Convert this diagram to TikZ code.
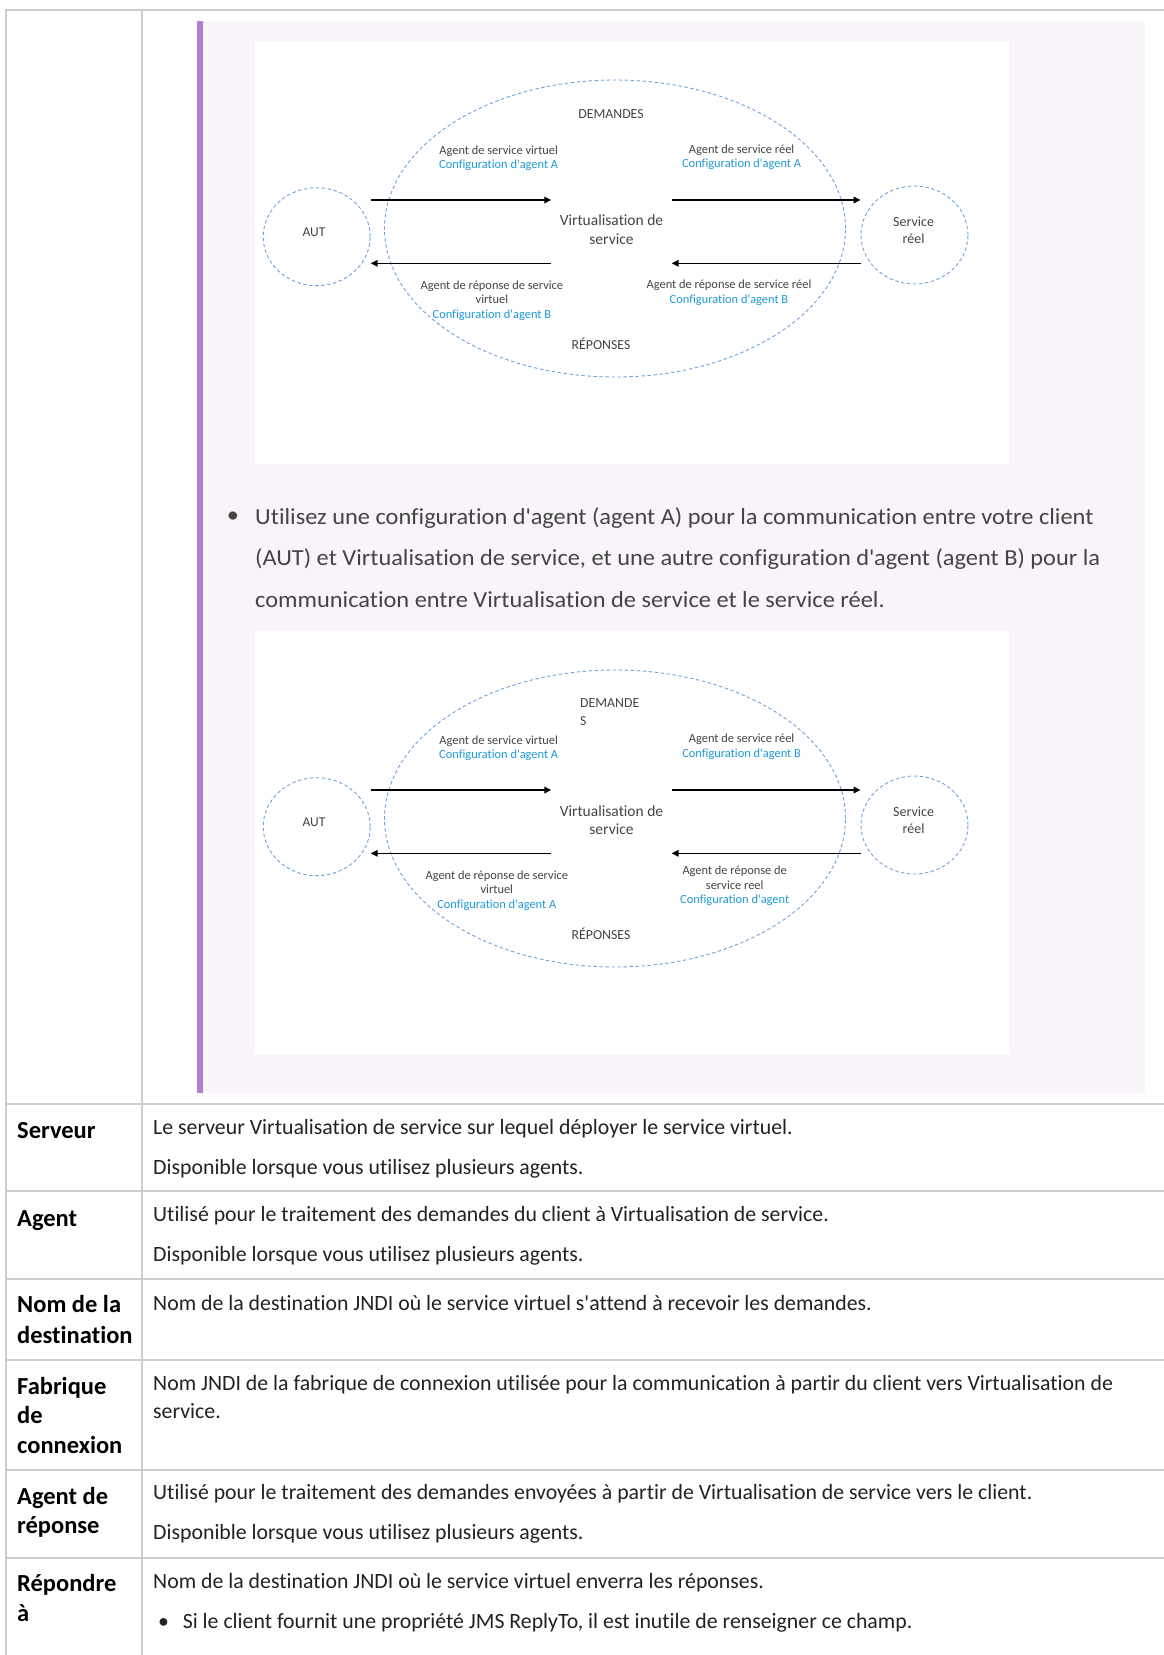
\documentclass[tikz,border=0pt]{standalone}
\usepackage{fontspec}
\setmainfont{Carlito}[Ligatures={NoCommon}]
\newfontfamily\widef{Carlito}[Ligatures={NoCommon}, FakeStretch=1.06]
\usetikzlibrary{arrows.meta,shapes.geometric}
\definecolor{gridgray}{HTML}{CCCCCC}
\definecolor{notebg}{HTML}{F9F4FA}
\definecolor{notebar}{HTML}{B07FD0}
\definecolor{dashblue}{HTML}{6FA3DA}
\definecolor{cfgblue}{HTML}{1C9AD6}
\definecolor{dtext}{HTML}{444444}
\definecolor{bodytext}{HTML}{222222}
\tikzset{
  tline/.style={draw=gridgray, line width=2pt},
  bubble/.style={ellipse, draw=dashblue, dash pattern=on 3.5pt off 2.5pt, line width=0.9pt, inner sep=0pt},
  dlbl/.style={font=\fontsize{12.4}{14.3}\selectfont, text=dtext, align=center, inner sep=0pt},
  ctr/.style={font=\fontsize{15.5}{18.5}\selectfont, text=dtext, align=center, inner sep=0pt},
  hdr/.style={font=\fontsize{13.8}{17.7}\selectfont, text=dtext, inner sep=0pt},
  arr/.style={line width=1.6pt, -{Triangle[length=7pt,width=6.5pt]}},
  body/.style={font=\fontsize{21.8}{27.5}\selectfont, text=bodytext, anchor=base west, inner sep=0pt, align=left},
  lab/.style={font=\bfseries\fontsize{24.5}{29.5}\selectfont, text=black, anchor=base west, inner sep=0pt, align=left},
  bul/.style={font=\widef\fontsize{23}{42}\selectfont, text=dtext, anchor=base west, inner sep=0pt}
}
\newcommand{\cfg}[1]{\textcolor{cfgblue}{#1}}
\newcommand{\ap}{\textquotesingle}
\begin{document}
\begin{tikzpicture}[x=1pt,y=-1pt]
\useasboundingbox (0,0) rectangle (1164,1655);
\fill[white] (0,0) rectangle (1164,1655);
% note block
\fill[notebg] (203,21) rectangle (1145,1093);
\fill[notebar] (197,21) rectangle (203,1093);
\fill[white] (255,41) rectangle (1009,464);
\fill[white] (255,631) rectangle (1009,1054);
% table grid
\draw[tline] (5,10) -- (1164,10);
\draw[tline] (6,10) -- (6,1655);
\draw[tline] (142,10) -- (142,1655);
\foreach \yy in {1104,1191,1279,1360,1470,1558} \draw[tline] (6,\yy) -- (1164,\yy);

% ---------- diagram 1 ----------
\node[bubble, minimum width=461pt, minimum height=297pt] (vz1) at (615,228.5) {};
\node[bubble, minimum width=107pt, minimum height=98pt] (aut1) at (316.7,236.7) {};
\node[bubble, minimum width=107pt, minimum height=98pt] (real1) at (914.5,235) {};
\node[hdr, font=\fontsize{13.5}{16}\selectfont] (autt1) at (314,232.7) {AUT};
\node[ctr, font=\fontsize{14}{16.7}\selectfont] (realt1) at (913.6,230.4) {Service\\réel};
\node[ctr, minimum width=120pt] (vs1) at (611.5,229.9) {Virtualisation de\\service};
\node[hdr] (dem1) at (611,114) {DEMANDES};
\node[hdr] (rep1) at (601,343.3) {RÉPONSES};
\node[dlbl] (a1) at (498.7,158.5) {Agent de service virtuel\\\cfg{Configuration d\ap agent A}};
\node[dlbl] (b1) at (741.6,157.2) {Agent de service réel\\\cfg{Configuration d\ap agent A}};
\node[dlbl] (c1) at (491.9,300.5) {Agent de réponse de service\\virtuel\\\cfg{Configuration d\ap agent B}};
\node[dlbl] (d1) at (729,292.8) {Agent de réponse de service réel\\\cfg{Configuration d\ap agent B}};
\coordinate (q1) at (0,200);
\coordinate (p1) at (0,263.3);
\draw[arr] (aut1.east |- q1) -- (vs1.west |- q1);
\draw[arr] (vs1.east |- q1) -- (real1.west |- q1);
\draw[arr] (vs1.west |- p1) -- (aut1.east |- p1);
\draw[arr] (real1.west |- p1) -- (vs1.east |- p1);

% bullet paragraph
\node[bul, anchor=base] (dot0) at (233,522) {\textbullet};
\node[bul] (l1) at (255,524) {Utilisez une configuration d\ap agent (agent A) pour la communication entre votre client};
\node[bul] (l2) at (255,565.5) {(AUT) et Virtualisation de service, et une autre configuration d\ap agent (agent B) pour la};
\node[bul] (l3) at (255,607.5) {communication entre Virtualisation de service et le service réel.};

% ---------- diagram 2 ----------
\begin{scope}[shift={(0,590)}]
\node[bubble, minimum width=461pt, minimum height=297pt] (vz2) at (615,228.5) {};
\node[bubble, minimum width=107pt, minimum height=98pt] (aut2) at (316.7,236.7) {};
\node[bubble, minimum width=107pt, minimum height=98pt] (real2) at (914.5,235) {};
\node[hdr, font=\fontsize{13.5}{16}\selectfont] (autt2) at (314,232.7) {AUT};
\node[ctr, font=\fontsize{14}{16.7}\selectfont] (realt2) at (913.6,230.4) {Service\\réel};
\node[ctr, minimum width=120pt] (vs2) at (611.5,230) {Virtualisation de\\service};
\node[hdr, anchor=west, align=left] (dem2) at (580,122.2) {DEMANDE\\S};
\node[hdr] (rep2) at (601,343.3) {RÉPONSES};
\node[dlbl] (a2) at (498.7,158.4) {Agent de service virtuel\\\cfg{Configuration d\ap agent A}};
\node[dlbl] (b2) at (741.6,156.8) {Agent de service réel\\\cfg{Configuration d\ap agent B}};
\node[dlbl] (c2) at (496.8,300.5) {Agent de réponse de service\\virtuel\\\cfg{Configuration d\ap agent A}};
\node[dlbl] (d2) at (734.7,296) {Agent de réponse de\\service reel\\\cfg{Configuration d\ap agent}};
\coordinate (q2) at (0,200);
\coordinate (p2) at (0,263.3);
\draw[arr] (aut2.east |- q2) -- (vs2.west |- q2);
\draw[arr] (vs2.east |- q2) -- (real2.west |- q2);
\draw[arr] (vs2.west |- p2) -- (aut2.east |- p2);
\draw[arr] (real2.west |- p2) -- (vs2.east |- p2);
\end{scope}

% ---------- table rows ----------
\node[lab] (k1) at (17,1138.7) {Serveur};
\node[body] (v1a) at (153,1134) {Le serveur Virtualisation de service sur lequel déployer le service virtuel.};
\node[body] (v1b) at (153,1174) {Disponible lorsque vous utilisez plusieurs agents.};

\node[lab] (k2) at (17,1226.3) {Agent};
\node[body] (v2a) at (153,1221.6) {Utilisé pour le traitement des demandes du client à Virtualisation de service.};
\node[body] (v2b) at (153,1261.7) {Disponible lorsque vous utilisez plusieurs agents.};

\node[lab, font=\bfseries\fontsize{24.5}{30.7}\selectfont] (k3) at (17,1343.5) {Nom de la\\destination};
\node[body] (v3a) at (153,1310.3) {Nom de la destination JNDI où le service virtuel s\ap attend à recevoir les demandes.};

\node[lab] (k4) at (17,1453) {Fabrique\\de\\connexion};
\node[body] (v4a) at (153,1418) {Nom JNDI de la fabrique de connexion utilisée pour la communication à partir du client vers Virtualisation de\\service.};

\node[lab] (k5) at (17,1533.5) {Agent de\\réponse};
\node[body] (v5a) at (153,1499) {Utilisé pour le traitement des demandes envoyées à partir de Virtualisation de service vers le client.};
\node[body] (v5b) at (153,1539.3) {Disponible lorsque vous utilisez plusieurs agents.};

\node[lab] (k6) at (17,1621) {Répondre\\à};
\node[body] (v6a) at (153,1588) {Nom de la destination JNDI où le service virtuel enverra les réponses.};
\node[body] (v6dot) at (158,1628) {\textbullet};
\node[body] (v6b) at (182.6,1628) {Si le client fournit une propriété JMS ReplyTo, il est inutile de renseigner ce champ.};
\end{tikzpicture}
\end{document}
